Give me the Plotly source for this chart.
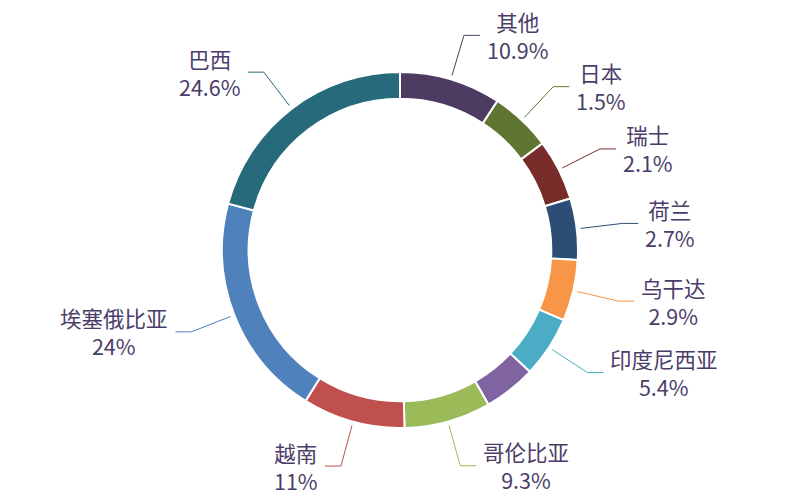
import math
import plotly.graph_objects as go

# 数据 (顺时针, 从12点钟方向开始)
countries = ["其他", "日本", "瑞士", "荷兰", "乌干达", "印度尼西亚", "", "哥伦比亚", "越南", "埃塞俄比亚", "巴西"]
shares = [10.9, 1.5, 2.1, 2.7, 2.9, 5.4, 5.6, 9.3, 11, 24, 24.6]
colors = ["#4D3B62", "#5F7530", "#772C2A", "#2C4D75", "#F79646", "#4BACC6",
          "#8064A2", "#9BBB59", "#C0504D", "#4F81BD", "#276A7C"]

W, H = 800, 500
CX, CY, R = 400, 250, 178
MIN_ANGLE = 20
TXT = "#4B3D69"
FONT = "Noto Sans CJK SC, Microsoft YaHei, sans-serif"


def slice_angles(vals, min_angle):
    # small slices get a minimum angle, the rest share what is left
    total = sum(vals)
    ang = [v * 360 / total for v in vals]
    small = [a < min_angle for a in ang]
    rest = 360 - min_angle * sum(small)
    big = sum(v for v, s in zip(vals, small) if not s)
    return [min_angle if s else v * rest / big for v, s in zip(vals, small)]


angles = slice_angles(shares, MIN_ANGLE)
total = sum(shares)
pcts = [f"{round(v / total * 100, 2):g}%" for v in shares]

fig = go.Figure(go.Pie(
    labels=[c if c else " " for c in countries],
    values=angles,
    customdata=pcts,
    hovertemplate="%{label}: %{customdata}<extra></extra>",
    sort=False, direction="clockwise", rotation=0,
    hole=0.85,
    marker=dict(colors=colors, line=dict(color="white", width=2)),
    textinfo="none",
    domain=dict(x=[0, 1], y=[(CY - R) / H, (CY + R) / H]),
    showlegend=False,
))


def to_paper(px, py):
    return px / W, 1 - py / H


shapes, annos = [], []
start = 0
for name, a, pct, col in zip(countries, angles, pcts, colors):
    mid = math.radians(start + a / 2)
    start += a
    if not name:
        continue
    sx, sy = CX + 182 * math.sin(mid), CY - 182 * math.cos(mid)
    ex, ey = CX + 224 * math.sin(mid), CY - 224 * math.cos(mid)
    side = 1 if math.sin(mid) >= 0 else -1
    hx = ex + side * 16
    pts = [to_paper(sx, sy), to_paper(ex, ey), to_paper(hx, ey)]
    path = "M {} {} L {} {} L {} {}".format(*[c for p in pts for c in p])
    shapes.append(dict(type="path", path=path, xref="paper", yref="paper",
                       line=dict(color=col, width=1)))
    x, y = to_paper(hx + side * 5, ey)
    annos.append(dict(x=x, y=y, xref="paper", yref="paper",
                      text=f"{name}<br>{pct}", align="center",
                      showarrow=False, xanchor="left" if side > 0 else "right",
                      yanchor="middle",
                      font=dict(size=21.5, color=TXT, family=FONT)))

fig.update_layout(
    width=W, height=H,
    margin=dict(l=0, r=0, t=0, b=0),
    paper_bgcolor="white", plot_bgcolor="white",
    shapes=shapes, annotations=annos,
)

fig.write_html("out.html", config={"displayModeBar": False},
               post_script="document.body.style.margin='0';")
